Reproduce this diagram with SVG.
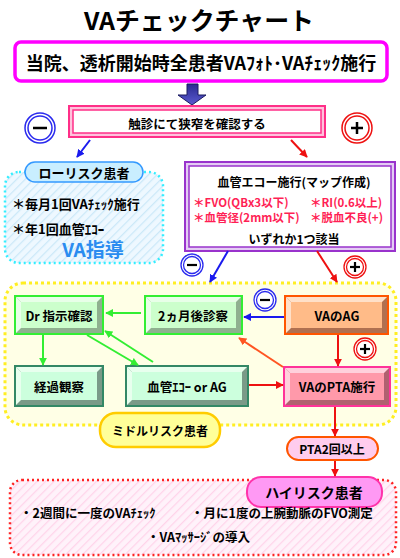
<svg xmlns="http://www.w3.org/2000/svg" width="400" height="558" viewBox="0 0 400 558">
<defs>
<style>
text{font-family:"Noto Sans CJK JP","Noto Sans",sans-serif;font-weight:bold;fill:#000;}
.c{text-anchor:middle;dominant-baseline:central;}
.l{dominant-baseline:central;}
.red{fill:#ff1f55;}
.ln{fill:none;stroke-width:2;}
</style>
<pattern id="hb" width="6" height="6" patternUnits="userSpaceOnUse" patternTransform="rotate(45)">
<rect width="6" height="6" fill="#eef8ff"/><line x1="0" y1="0" x2="0" y2="6" stroke="#cbe8f8" stroke-width="2.5"/>
</pattern>
<pattern id="hp" width="6" height="6" patternUnits="userSpaceOnUse" patternTransform="rotate(45)">
<rect width="6" height="6" fill="#fff2fa"/><line x1="0" y1="0" x2="0" y2="6" stroke="#ffd4ea" stroke-width="2.5"/>
</pattern>
<linearGradient id="ga" x1="0" y1="0" x2="0" y2="1"><stop offset="0" stop-color="#2a2a90"/><stop offset="1" stop-color="#5a5ad0"/></linearGradient>
<marker id="mb" viewBox="0 0 10 10" refX="9" refY="5" markerWidth="4" markerHeight="4" orient="auto"><path d="M0,0 L10,5 L0,10 z" fill="#1a1aee"/></marker>
<marker id="mr" viewBox="0 0 10 10" refX="9" refY="5" markerWidth="4" markerHeight="4" orient="auto"><path d="M0,0 L10,5 L0,10 z" fill="#ee1111"/></marker>
<marker id="mg" viewBox="0 0 10 10" refX="9" refY="5" markerWidth="4" markerHeight="4" orient="auto"><path d="M0,0 L10,5 L0,10 z" fill="#33ee33"/></marker>
<marker id="mo" viewBox="0 0 10 10" refX="9" refY="5" markerWidth="4" markerHeight="4" orient="auto"><path d="M0,0 L10,5 L0,10 z" fill="#ff5522"/></marker>
</defs>
<rect width="400" height="558" fill="#fff"/>

<!-- background regions -->
<g id="lowRegion"><rect x="5" y="172" width="158" height="91" rx="14" fill="url(#hb)" stroke="#33eeff" stroke-width="2.5" stroke-dasharray="2 3"/></g>
<g id="midRegion"><rect x="5" y="283" width="391" height="142" rx="18" fill="#ffffe6" stroke="#ffee22" stroke-width="3" stroke-dasharray="3 3"/></g>
<g id="highRegion"><rect x="10" y="480" width="386" height="75" rx="12" fill="url(#hp)" stroke="#ff2222" stroke-width="2.5" stroke-dasharray="2 3"/></g>

<g id="title"><text x="199" y="29.5" font-size="24.5" text-anchor="middle" textLength="230" lengthAdjust="spacingAndGlyphs">VAチェックチャート</text></g>

<g id="start">
<rect x="15" y="42" width="372" height="39" rx="6" fill="#fff" stroke="#ff00ff" stroke-width="3.5"/>
<text class="c" x="201" y="62" font-size="18">当院、透析開始時全患者VAﾌｫﾄ･VAﾁｪｯｸ施行</text>
</g>

<g id="bigArrow"><polygon points="187,84 198,84 198,95 206,95 192,105 178,95 187,95" fill="url(#ga)" stroke="#1a1a60" stroke-width="1"/></g>

<g id="palp">
<rect x="69" y="106" width="256" height="31" fill="#ffc2dc" stroke="#ff2f88" stroke-width="2"/>
<rect x="73" y="110" width="248" height="23" fill="#fff" stroke="#ff2f88" stroke-width="1.5"/>
<text class="c" x="197" y="123" font-size="12.5">触診にて狭窄を確認する</text>
</g>

<g id="minus1"><circle cx="40" cy="128" r="15" fill="#fff" stroke="#2a2aee" stroke-width="1.5"/><circle cx="40" cy="128" r="12" fill="#fff" stroke="#2a2aee" stroke-width="1.5"/><line x1="33" y1="128" x2="47" y2="128" stroke="#000" stroke-width="2.5"/></g>
<g id="plus1"><circle cx="357" cy="128" r="15" fill="#fff" stroke="#ee1111" stroke-width="1.5"/><circle cx="357" cy="128" r="12" fill="#fff" stroke="#ee1111" stroke-width="1.5"/><line x1="351" y1="128" x2="363" y2="128" stroke="#000" stroke-width="2.5"/><line x1="357" y1="122" x2="357" y2="134" stroke="#000" stroke-width="2.5"/></g>

<g id="lowRisk">
<rect x="25" y="162" width="118" height="20" rx="10" fill="#c9eeff" stroke="#3399ff" stroke-width="1.5"/>
<text class="c" x="84" y="172" font-size="13">ローリスク患者</text>
<text class="l" x="12" y="203" font-size="13">＊毎月1回VAﾁｪｯｸ施行</text>
<text class="l" x="12" y="228" font-size="13">＊年1回血管ｴｺｰ</text>
<text class="c" x="93" y="248" font-size="19" style="fill:#2a8cf0">VA指導</text>
</g>

<g id="echo">
<rect x="185" y="162" width="210" height="89" fill="#e4ccf4" stroke="#9933cc" stroke-width="2"/>
<rect x="189" y="166" width="202" height="81" fill="#fff" stroke="#9933cc" stroke-width="1.5"/>
<text class="c" x="294" y="181" font-size="12">血管エコー施行(マップ作成)</text>
<text class="l red" x="193" y="202" font-size="11.5">＊FVO(QBx3以下)</text>
<text class="l red" x="310" y="202" font-size="11.5">＊RI(0.6以上)</text>
<text class="l red" x="193" y="217" font-size="11.5">＊血管径(2mm以下)</text>
<text class="l red" x="310" y="217" font-size="11.5">＊脱血不良(+)</text>
<text class="c" x="294" y="238" font-size="12">いずれか1つ該当</text>
</g>

<g id="minus2"><circle cx="192" cy="265" r="11" fill="#fff" stroke="#2a2aee" stroke-width="1.3"/><circle cx="192" cy="265" r="8.5" fill="#fff" stroke="#2a2aee" stroke-width="1.3"/><line x1="187" y1="265" x2="197" y2="265" stroke="#000" stroke-width="2.2"/></g>
<g id="plus2"><circle cx="355" cy="267" r="11" fill="#fff" stroke="#ee1111" stroke-width="1.3"/><circle cx="355" cy="267" r="8.5" fill="#fff" stroke="#ee1111" stroke-width="1.3"/><line x1="350" y1="267" x2="360" y2="267" stroke="#000" stroke-width="2.2"/><line x1="355" y1="262" x2="355" y2="272" stroke="#000" stroke-width="2.2"/></g>
<g id="minus3"><circle cx="265" cy="300" r="11" fill="#fff" stroke="#2a2aee" stroke-width="1.3"/><circle cx="265" cy="300" r="8.5" fill="#fff" stroke="#2a2aee" stroke-width="1.3"/><line x1="260" y1="300" x2="270" y2="300" stroke="#000" stroke-width="2.2"/></g>
<g id="plus3"><circle cx="365" cy="349" r="11" fill="#fff" stroke="#ee1111" stroke-width="1.3"/><circle cx="365" cy="349" r="8.5" fill="#fff" stroke="#ee1111" stroke-width="1.3"/><line x1="360" y1="349" x2="370" y2="349" stroke="#000" stroke-width="2.2"/><line x1="365" y1="344" x2="365" y2="354" stroke="#000" stroke-width="2.2"/></g>

<g id="drCheck">
<rect x="15" y="296" width="88" height="38" fill="#8fb08f" stroke="#33ee33" stroke-width="2"/>
<polygon points="16,297 102,297 97,302 21,302" fill="#e8ffe8"/><polygon points="16,297 21,302 21,328 16,333" fill="#e8ffe8"/>
<rect x="21" y="302" width="76" height="26" fill="#ccffcc"/>
<text class="c" x="59" y="315" font-size="12.5">Dr 指示確認</text>
</g>
<g id="twoMonth">
<rect x="145" y="296" width="97" height="38" fill="#8fb08f" stroke="#33ee33" stroke-width="2"/>
<polygon points="146,297 241,297 236,302 151,302" fill="#e8ffe8"/><polygon points="146,297 151,302 151,328 146,333" fill="#e8ffe8"/>
<rect x="151" y="302" width="85" height="26" fill="#ccffcc"/>
<text class="c" x="193" y="315" font-size="12.5">2ヵ月後診察</text>
</g>
<g id="vaAG">
<rect x="285" y="296" width="103" height="38" fill="#b07050" stroke="#ff5500" stroke-width="2"/>
<polygon points="286,297 387,297 382,302 291,302" fill="#ffe0c8"/><polygon points="286,297 291,302 291,328 286,333" fill="#ffe0c8"/>
<rect x="291" y="302" width="91" height="26" fill="#ffbb88"/>
<text class="c" x="337" y="315" font-size="12.5">VAのAG</text>
</g>
<g id="observe">
<rect x="15" y="366" width="88" height="40" fill="#7a9a88" stroke="#338866" stroke-width="2"/>
<polygon points="16,367 102,367 97,372 21,372" fill="#e8ffee"/><polygon points="16,367 21,372 21,400 16,405" fill="#e8ffee"/>
<rect x="21" y="372" width="76" height="28" fill="#ccffdd"/>
<text class="c" x="59" y="386" font-size="12.5">経過観察</text>
</g>
<g id="echoAG">
<rect x="126" y="366" width="122" height="40" fill="#7a9a88" stroke="#338866" stroke-width="2"/>
<polygon points="127,367 247,367 242,372 132,372" fill="#e8ffee"/><polygon points="127,367 132,372 132,400 127,405" fill="#e8ffee"/>
<rect x="132" y="372" width="110" height="28" fill="#ccffdd"/>
<text class="c" x="187" y="386" font-size="12.5">血管ｴｺｰ or AG</text>
</g>
<g id="pta">
<rect x="284" y="367" width="106" height="39" fill="#b06070" stroke="#ff3399" stroke-width="2"/>
<polygon points="285,368 389,368 384,373 290,373" fill="#ffd0dc"/><polygon points="285,368 290,373 290,400 285,405" fill="#ffd0dc"/>
<rect x="290" y="373" width="94" height="27" fill="#ff99aa"/>
<text class="c" x="337" y="386" font-size="12.5">VAのPTA施行</text>
</g>

<g id="midRisk">
<rect x="100" y="413" width="120" height="34" rx="16" fill="#ffff99" stroke="#ffcc00" stroke-width="2.5"/>
<text class="c" x="160" y="430" font-size="12">ミドルリスク患者</text>
</g>
<g id="pta2">
<rect x="287" y="437" width="91" height="23" rx="11.5" fill="#ffccee" stroke="#ff5500" stroke-width="2"/>
<text class="c" x="332" y="448" font-size="12">PTA2回以上</text>
</g>
<g id="highRisk">
<rect x="247" y="477" width="135" height="30" rx="14" fill="#ff99f4" stroke="#ff33aa" stroke-width="2"/>
<text class="c" x="314" y="492" font-size="14">ハイリスク患者</text>
<text class="l" x="20" y="512" font-size="12.5">・2週間に一度のVAﾁｪｯｸ</text>
<text class="l" x="191" y="512" font-size="12.5">・月に1度の上腕動脈のFVO測定</text>
<text class="l" x="147" y="536" font-size="12.5">・VAﾏｯｻｰｼﾞの導入</text>
</g>

<g id="connectors">
<line class="ln" x1="90" y1="140" x2="77" y2="157" stroke="#1a1aee" marker-end="url(#mb)"/>
<line class="ln" x1="291" y1="140" x2="307" y2="157" stroke="#ee1111" marker-end="url(#mr)"/>
<line class="ln" x1="228" y1="251" x2="210" y2="282" stroke="#1a1aee" marker-end="url(#mb)"/>
<line class="ln" x1="317" y1="251" x2="337" y2="282" stroke="#ee1111" marker-end="url(#mr)"/>
<line class="ln" x1="141" y1="313" x2="106" y2="313" stroke="#33ee33" marker-end="url(#mg)"/>
<line class="ln" x1="284" y1="317" x2="244" y2="317" stroke="#1a1aee" marker-end="url(#mb)"/>
<line class="ln" x1="338" y1="335" x2="338" y2="366" stroke="#ee1111" marker-end="url(#mr)"/>
<line class="ln" x1="283" y1="367" x2="239" y2="338" stroke="#ff5522" marker-end="url(#mo)"/>
<line class="ln" x1="43" y1="335" x2="43" y2="365" stroke="#33ee33" marker-end="url(#mg)"/>
<line class="ln" x1="87" y1="335" x2="138" y2="365" stroke="#33ee33" marker-end="url(#mg)"/>
<line class="ln" x1="153" y1="362" x2="105" y2="331" stroke="#33ee33" marker-end="url(#mg)"/>
<line class="ln" x1="249" y1="385" x2="283" y2="385" stroke="#ee1111" marker-end="url(#mr)"/>
<line class="ln" x1="335" y1="407" x2="335" y2="436" stroke="#ee1111" marker-end="url(#mr)"/>
<line class="ln" x1="335" y1="461" x2="335" y2="476" stroke="#ee1111" marker-end="url(#mr)"/>
</g>
</svg>
